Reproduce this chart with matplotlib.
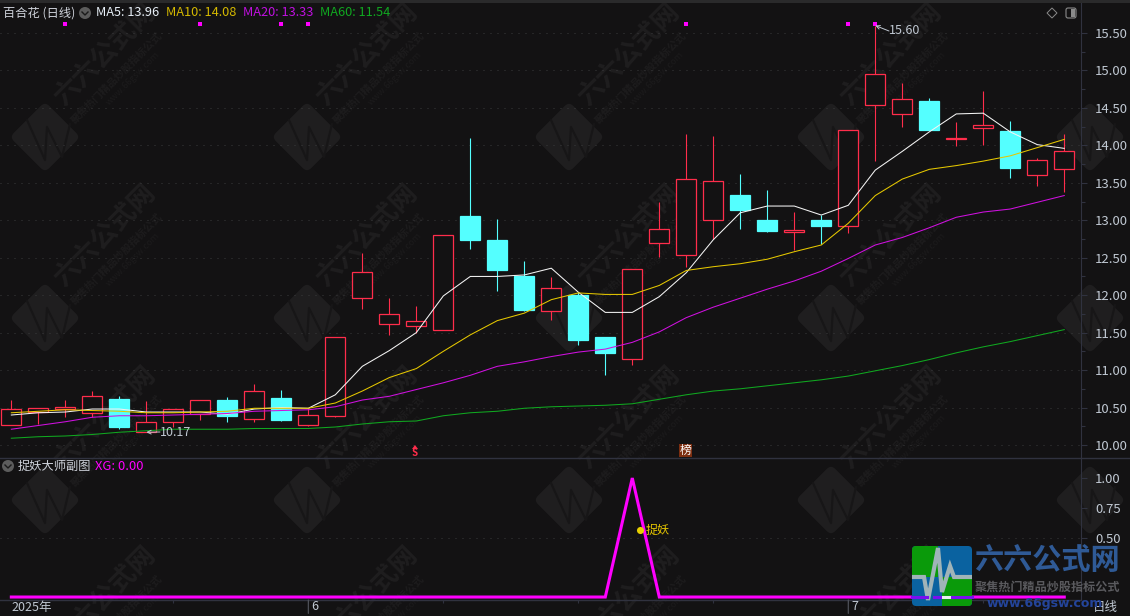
import numpy as np
import matplotlib
matplotlib.use("Agg")
import matplotlib.pyplot as plt
from matplotlib.patches import FancyBboxPatch, Rectangle, Polygon, Circle
from matplotlib.transforms import Affine2D

plt.rcParams['font.family'] = ['Noto Sans CJK SC', 'DejaVu Sans']

W, H = 1130, 616

# daily candles
opens = [10.26, 10.44, 10.48, 10.43, 10.61, 10.17, 10.30, 10.41, 10.60, 10.35,
         10.63, 10.27, 10.39, 11.96, 11.61, 11.59, 11.53, 13.06, 12.74, 12.26,
         11.79, 12.00, 11.44, 11.15, 12.70, 12.53, 13.01, 13.34, 13.00, 12.84,
         13.00, 12.92, 14.54, 14.42, 14.59, 14.08, 14.23, 14.19, 13.60, 13.69]
closes = [10.48, 10.49, 10.51, 10.66, 10.24, 10.30, 10.48, 10.60, 10.39, 10.72,
          10.33, 10.40, 11.44, 12.31, 11.75, 11.65, 12.81, 12.74, 12.34, 11.80,
          12.09, 11.40, 11.23, 12.35, 12.88, 13.55, 13.53, 13.14, 12.86, 12.87,
          12.92, 14.20, 14.95, 14.62, 14.21, 14.10, 14.27, 13.70, 13.80, 13.92]
highs = [10.60, 10.49, 10.60, 10.72, 10.66, 10.59, 10.48, 10.60, 10.64, 10.81,
         10.73, 10.49, 11.44, 12.56, 11.96, 11.85, 12.81, 14.10, 13.02, 12.46,
         12.24, 12.04, 11.44, 12.35, 13.24, 14.15, 14.13, 13.62, 13.40, 13.11,
         13.07, 14.20, 15.60, 14.83, 14.63, 14.31, 14.73, 14.33, 13.83, 14.15]
lows = [10.26, 10.28, 10.37, 10.37, 10.21, 10.17, 10.24, 10.33, 10.30, 10.30,
        10.32, 10.25, 10.37, 11.81, 11.47, 11.50, 11.53, 12.62, 12.06, 11.79,
        11.67, 11.33, 10.93, 11.07, 12.51, 12.38, 12.75, 12.89, 12.84, 12.60,
        12.68, 12.83, 13.79, 14.24, 14.21, 13.99, 14.00, 13.57, 13.46, 13.38]

ma5 = [10.40, 10.43, 10.44, 10.48, 10.48, 10.44, 10.44, 10.44, 10.41, 10.48,
       10.50, 10.49, 10.67, 11.05, 11.26, 11.50, 11.99, 12.25, 12.25, 12.27,
       12.36, 12.04, 11.77, 11.77, 11.98, 12.30, 12.74, 13.10, 13.19, 13.19,
       13.07, 13.20, 13.67, 13.92, 14.18, 14.42, 14.43, 14.18, 14.01, 13.96]
ma10 = [10.43, 10.45, 10.47, 10.46, 10.45, 10.43, 10.43, 10.44, 10.45, 10.49,
        10.49, 10.49, 10.56, 10.72, 10.90, 11.02, 11.25, 11.47, 11.66, 11.76,
        11.94, 12.03, 12.01, 12.01, 12.13, 12.33, 12.38, 12.42, 12.48, 12.58,
        12.67, 12.96, 13.33, 13.55, 13.68, 13.73, 13.79, 13.86, 13.97, 14.08]
ma20 = [10.21, 10.26, 10.31, 10.37, 10.39, 10.39, 10.40, 10.41, 10.42, 10.45,
        10.46, 10.47, 10.51, 10.60, 10.65, 10.74, 10.83, 10.93, 11.05, 11.11,
        11.18, 11.24, 11.28, 11.37, 11.51, 11.70, 11.84, 11.96, 12.08, 12.19,
        12.32, 12.49, 12.67, 12.77, 12.90, 13.04, 13.11, 13.15, 13.24, 13.33]
ma60 = [10.09, 10.11, 10.12, 10.14, 10.17, 10.19, 10.21, 10.21, 10.21, 10.22,
        10.22, 10.22, 10.24, 10.28, 10.31, 10.32, 10.39, 10.43, 10.45, 10.49,
        10.51, 10.52, 10.53, 10.55, 10.61, 10.67, 10.72, 10.75, 10.79, 10.83,
        10.87, 10.92, 10.99, 11.06, 11.14, 11.23, 11.31, 11.38, 11.46, 11.54]
xg = [0] * 40
xg[23] = 1

signal_days = [2, 7, 10, 11, 25, 31, 32]
price_ticks = [10.0, 10.5, 11.0, 11.5, 12.0, 12.5, 13.0, 13.5, 14.0, 14.5, 15.0, 15.5]
sub_ticks = [0.5, 0.75, 1.0]
date_ticks = [0, 11, 31]
date_labels = ['2025年', '6', '7']

BG = '#131213'
RED = '#ff2d4b'
CYAN = '#54ffff'
GREY = '#c0c8d2'
AXIS = '#30323f'
MAGENTA = '#ff00ff'
WM = '#1f1e1f'

fig = plt.figure(figsize=(W / 100, H / 100), dpi=100, facecolor=BG)


def add_axes_px(x0, y0, x1, y1):
    return fig.add_axes([x0 / W, 1 - y1 / H, (x1 - x0) / W, (y1 - y0) / H], facecolor='none')


# watermark layer, pixel coordinates with y pointing down
bgax = add_axes_px(0, 0, W, H)
bgax.set_xlim(0, W)
bgax.set_ylim(H, 0)
bgax.axis('off')
bgax.set_zorder(0)

for wy in [137, 318, 500, 680]:
    for wx in [45, 307, 569, 831, 1090]:
        if wy < 600:
            t = Affine2D().rotate_deg_around(wx, wy, 45) + bgax.transData
            bgax.add_patch(FancyBboxPatch((wx - 25, wy - 25), 50, 50, boxstyle='round,pad=0,rounding_size=6',
                                          fc=WM, ec='none', transform=t))
            bgax.plot([wx - 18, wx, wx + 2, wx + 17, wx + 25],
                      [wy - 17, wy + 23, wy - 10, wy + 20, wy - 13],
                      color='#171617', lw=1.6)
        if wx > 1000:
            continue
        bgax.text(wx + 60, wy - 83, '六六公式网', color=WM, fontsize=19, fontweight='bold',
                  rotation=45, ha='center', va='center', rotation_mode='anchor', clip_on=True)
        bgax.text(wx + 72, wy - 59, '聚焦热门精品炒股指标公式', color='#1d1c1d', fontsize=7.5, fontweight='bold',
                  rotation=45, ha='center', va='center', rotation_mode='anchor', clip_on=True)
        bgax.text(wx + 88, wy - 59, 'www.66gsw.com', color='#1c1b1c', fontsize=6.5,
                  rotation=45, ha='center', va='center', rotation_mode='anchor', clip_on=True)

# main panel
ax = add_axes_px(0, 0, 1081, 458)
ax.set_zorder(1)
ax.set_xlim(-0.42, 39.62)
ax.set_ylim(9.826, 15.941)

sub = add_axes_px(0, 459, 1081, 600)
sub.set_zorder(1)
sub.set_xlim(-0.42, 39.62)
sub.set_ylim(-0.025, 1.16)

days = np.arange(len(opens))
for i in days:
    up = closes[i] >= opens[i]
    col = RED if up else CYAN
    top_, bot = max(opens[i], closes[i]), min(opens[i], closes[i])
    ax.vlines(i, top_, highs[i], color=col, lw=0.8, zorder=3)
    ax.vlines(i, lows[i], bot, color=col, lw=0.8, zorder=3)
    ax.bar(i, top_ - bot, bottom=bot, width=0.73, facecolor=BG if up else CYAN,
           edgecolor=col, linewidth=0.9, zorder=3)

ax.plot(days, ma5, color='#f4f4f4', lw=0.75, zorder=4)
ax.plot(days, ma10, color='#e6c800', lw=0.75, zorder=4)
ax.plot(days, ma20, color='#d010e0', lw=0.75, zorder=4)
ax.plot(days, ma60, color='#10a820', lw=0.75, zorder=4)

ax.scatter(signal_days, [15.62] * len(signal_days), marker='s', s=5, color=MAGENTA, linewidths=0, zorder=5)

for axis_, ticks in [(ax, price_ticks), (sub, [0.5])]:
    for v in ticks:
        axis_.axhline(v, color='#3a3a3c', lw=0.72, dashes=(1, 6), zorder=1)

sub.plot(days, xg, color=MAGENTA, lw=2.2, zorder=4, solid_joinstyle='miter')
sub.scatter([23.3], [0.56], s=26, color='#e8d000', zorder=5, linewidths=0)
sub.text(23.5, 0.56, '捉妖', color='#e8c800', fontsize=8.7, va='center', ha='left', zorder=5)

# right scale
for a in (ax, sub):
    a.set_facecolor('none')
    for s in a.spines.values():
        s.set_visible(False)
    a.spines['right'].set_visible(True)
    a.spines['right'].set_color(AXIS)
    a.yaxis.tick_right()
    a.tick_params(axis='y', colors=AXIS, labelcolor=GREY, labelsize=9.5, length=4, width=0.8, pad=6)
    a.set_xticks([])

ax.set_yticks(price_ticks)
ax.set_yticklabels(['%.2f' % v for v in price_ticks])
ax.set_yticks(np.arange(10.25, 15.75, 0.5), minor=True)
ax.tick_params(axis='y', which='minor', colors=AXIS, length=3, width=0.8)
sub.set_yticks(sub_ticks)
sub.set_yticklabels(['%.2f' % v for v in sub_ticks])
sub.spines['bottom'].set_visible(True)
sub.spines['bottom'].set_color(AXIS)
sub.spines['bottom'].set_linewidth(1.0)
sub.set_xticks(np.arange(1, 40, 5))
sub.tick_params(axis='x', colors=AXIS, length=2, width=0.8, labelbottom=False)
for d, lab in zip(date_ticks, date_labels):
    sub.annotate(lab, (d, 0), xycoords=('data', 'axes fraction'), xytext=(0 if d == 0 else 3, -7),
                 textcoords='offset pixels', color=GREY, fontsize=9, ha='left', va='center',
                 annotation_clip=False)
    if d:
        sub.annotate('', (d, 0), xycoords=('data', 'axes fraction'), xytext=(d, -0.095),
                     textcoords=('data', 'axes fraction'), annotation_clip=False,
                     arrowprops=dict(arrowstyle='-', color='#55575f', lw=0.8, shrinkA=0, shrinkB=0))

# extreme labels
arrow = dict(arrowstyle='->,head_width=0.15,head_length=0.3', color=GREY, lw=0.7,
             shrinkA=0, shrinkB=0, relpos=(0, 0.5), patchA=None)
ax.annotate('15.60', xy=(32, 15.60), xytext=(889, 31), textcoords=bgax.transData, color=GREY, fontsize=9,
            va='center', ha='left', zorder=6, arrowprops=arrow)
ax.annotate('10.17', xy=(5, 10.17), xytext=(160, 432), textcoords=bgax.transData, color=GREY, fontsize=9,
            va='center', ha='left', zorder=6, arrowprops=arrow)

# overlay on top: headers, logo
top = add_axes_px(0, 0, W, H)
top.set_xlim(0, W)
top.set_ylim(H, 0)
top.axis('off')
top.set_zorder(5)

top.add_patch(Rectangle((0, 0), W, 3, fc='#2a2a2b', ec='none'))
top.plot([0, W], [458, 458], color=AXIS, lw=1.0)

top.text(3, 13, '百合花 (日线)', color='#d0d4dc', fontsize=8.8, va='center')
for x, s, c in [(96, 'MA5: 13.96', '#e8f0f8'), (166, 'MA10: 14.08', '#d4b800'),
                (243, 'MA20: 13.33', '#c010e0'), (320, 'MA60: 11.54', '#10a820')]:
    top.text(x, 13, s, color=c, fontsize=9.2, va='center')
top.add_patch(Circle((85, 13), 6, fc='#5c5c5c', ec='none'))
top.plot([82, 85, 88], [12, 15, 12], color='#1a1a1a', lw=1)
top.add_patch(Circle((8, 466), 6, fc='#5c5c5c', ec='none'))
top.plot([5, 8, 11], [465, 468, 465], color='#1a1a1a', lw=1)
top.text(18, 466, '捉妖大师副图', color='#d0d4dc', fontsize=8.8, va='center')
top.text(95, 466, 'XG: 0.00', color=MAGENTA, fontsize=9.3, va='center')

# small icons
top.add_patch(Polygon([(1052, 8), (1057, 13), (1052, 18), (1047, 13)], fc='none', ec='#8a8a8a', lw=0.7))
top.add_patch(FancyBboxPatch((1066, 8), 10, 10, boxstyle='round,pad=0,rounding_size=2', fc='none', ec='#8a8a8a', lw=0.8))
top.add_patch(Rectangle((1071, 9), 4, 8, fc='#8a8a8a', ec='none'))

# signal marks
top.add_patch(Polygon([(412, 449), (415, 445), (418, 449)], fc=RED, ec='none'))
top.text(415, 453, 'S', color=RED, fontsize=7, ha='center', va='center', fontweight='bold')
top.add_patch(Rectangle((679, 444), 13, 13, fc='#7c2e10', ec='none'))
top.text(685.5, 450.5, '榜', color='white', fontsize=8.5, ha='center', va='center')

top.text(1105, 607, '日线', color=GREY, fontsize=9, ha='center', va='center')

# logo, bottom right
logo_box = FancyBboxPatch((912, 546), 60, 60, boxstyle='round,pad=0,rounding_size=4', fc='#0a62a0', ec='none', zorder=6)
top.add_patch(logo_box)
for rx, ry, rw, rh in [(912, 546, 26, 31), (942, 577, 30, 29)]:
    piece = Rectangle((rx, ry), rw, rh, fc='#0a9a0a', ec='none', zorder=6)
    top.add_patch(piece)
    piece.set_clip_path(logo_box)
wave = top.plot([912, 924, 928, 938, 942, 950, 954, 972], [577, 577, 600, 548, 592, 566, 577, 577],
                color='#a0b4b8', lw=3, zorder=7, solid_joinstyle='miter')[0]
wave.set_clip_path(logo_box)
top.plot([912, 927], [597, 597], color='#7a10f0', lw=2.2, zorder=7)
top.plot([934, 943], [597, 597], color='#7a10f0', lw=2.2, zorder=7)
top.plot([943, 952], [597, 597], color='#e8f0f0', lw=2.2, zorder=7)
top.plot([952, 972], [597, 597], color='#7a10f0', lw=2.2, zorder=7)
top.text(1047, 560, '六六公式网', color='#2f5a96', fontsize=21, fontweight='bold', ha='center', va='center', zorder=7)
top.text(1047, 587, '聚焦热门精品炒股指标公式', color='#5a5a5e', fontsize=8.7, fontweight='bold', ha='center', va='center', zorder=7)
top.text(1045, 603, 'www.66gsw.com', color='#24449a', fontsize=9, fontweight='bold', ha='center', va='center', zorder=7,
         family='DejaVu Sans')

fig.savefig('out.png', dpi=100, facecolor=BG)
